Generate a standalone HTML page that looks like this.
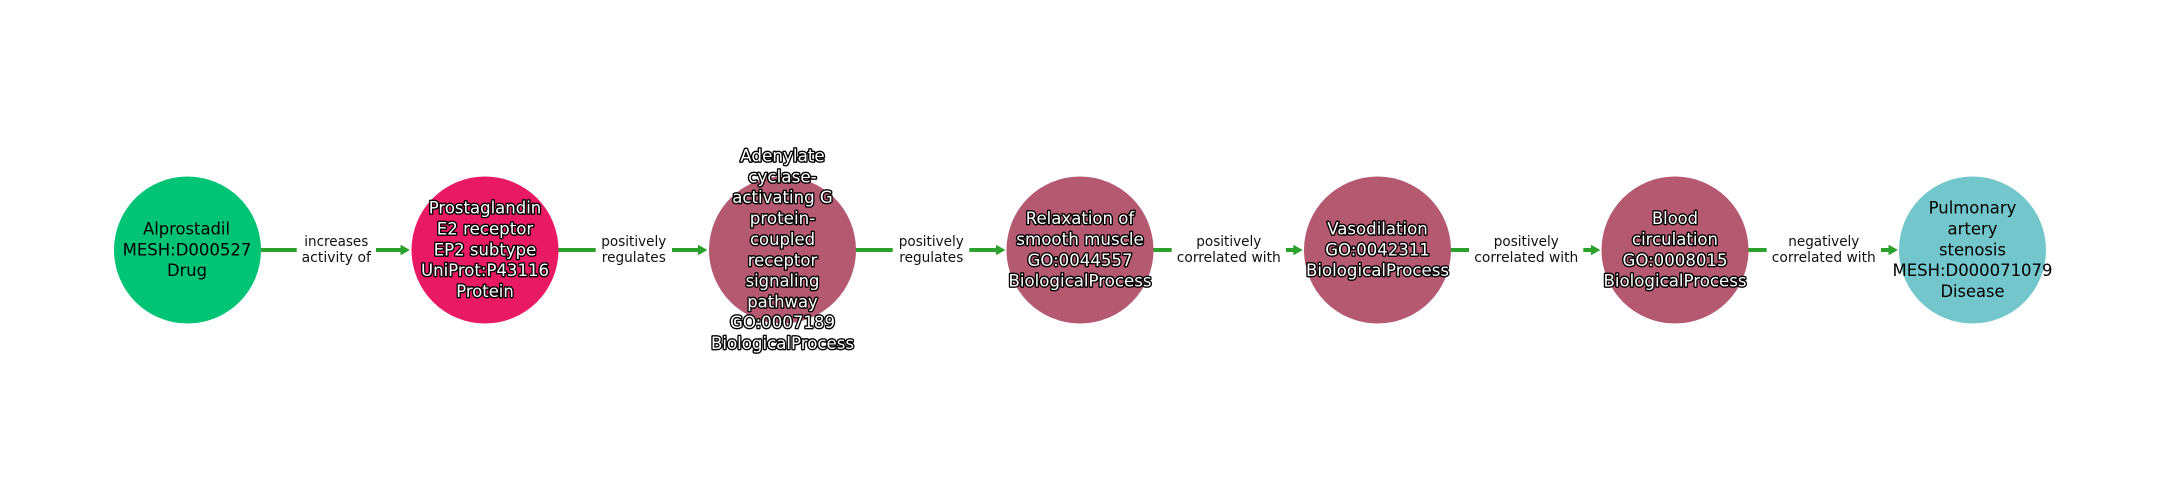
<!DOCTYPE html>
<html><head><meta charset="utf-8">
<style>
html,body{margin:0;padding:0;background:#fff;width:2160px;height:500px;overflow:hidden}
svg{display:block}
text{font-family:"DejaVu Sans",sans-serif;text-anchor:middle}
.n{font-size:17.2px;fill:#000}
.w{font-size:17.2px;fill:#fff;stroke:#000;stroke-width:2.8px;paint-order:stroke;stroke-linejoin:round}
.e{font-size:14px;fill:#111}
.l{stroke:#2ca02c;stroke-width:4;fill:none}
.a{fill:#2ca02c;stroke:#2ca02c;stroke-width:1;stroke-linejoin:round}
</style></head><body>
<svg width="2160" height="500" viewBox="0 0 2160 500" xmlns="http://www.w3.org/2000/svg">
<rect width="2160" height="500" fill="#fff"/>
<!-- edges -->
<path class="l" d="M260 250H296.7M376 250H403"/><path class="a" d="M409 250L401 245.5V254.5Z"/>
<path class="l" d="M558 250H595.7M672 250H701"/><path class="a" d="M706.5 250L698.5 245.5V254.5Z"/>
<path class="l" d="M855 250H892.7M969.3 250H999"/><path class="a" d="M1004.5 250L996.5 245.5V254.5Z"/>
<path class="l" d="M1153 250H1171.7M1286 250H1296"/><path class="a" d="M1301.8 250L1293.8 245.5V254.5Z"/>
<path class="l" d="M1450 250H1469M1583.3 250H1594"/><path class="a" d="M1599.5 250L1591.5 245.5V254.5Z"/>
<path class="l" d="M1748 250H1766.7M1881 250H1891"/><path class="a" d="M1897 250L1889 245.5V254.5Z"/>
<!-- nodes -->
<circle cx="187.5" cy="250" r="73.5" fill="#00c475"/>
<circle cx="485" cy="250" r="73.5" fill="#e91a63"/>
<circle cx="782.5" cy="250" r="73.5" fill="#b55971"/>
<circle cx="1080" cy="250" r="73.5" fill="#b55971"/>
<circle cx="1377.5" cy="250" r="73.5" fill="#b55971"/>
<circle cx="1675" cy="250" r="73.5" fill="#b55971"/>
<circle cx="1972.5" cy="250" r="73.5" fill="#72c6cc"/>
<!-- node labels -->
<text class="n" x="186.5" y="234.5" textLength="87" lengthAdjust="spacingAndGlyphs">Alprostadil</text>
<text class="n" x="187" y="255.5" textLength="128.7" lengthAdjust="spacingAndGlyphs">MESH:D000527</text>
<text class="n" x="187" y="276" textLength="40" lengthAdjust="spacingAndGlyphs">Drug</text>

<text class="w" x="485" y="213.5" textLength="112.5" lengthAdjust="spacingAndGlyphs">Prostaglandin</text>
<text class="w" x="485" y="234.5" textLength="96.5" lengthAdjust="spacingAndGlyphs">E2 receptor</text>
<text class="w" x="485" y="255.5" textLength="102.5" lengthAdjust="spacingAndGlyphs">EP2 subtype</text>
<text class="w" x="485" y="276" textLength="128" lengthAdjust="spacingAndGlyphs">UniProt:P43116</text>
<text class="w" x="485" y="297" textLength="57.5" lengthAdjust="spacingAndGlyphs">Protein</text>

<text class="w" x="782.5" y="161.5" textLength="84.5" lengthAdjust="spacingAndGlyphs">Adenylate</text>
<text class="w" x="782.5" y="182.5" textLength="68.5" lengthAdjust="spacingAndGlyphs">cyclase-</text>
<text class="w" x="782.5" y="203" textLength="100.5" lengthAdjust="spacingAndGlyphs">activating G</text>
<text class="w" x="782.5" y="224" textLength="65.5" lengthAdjust="spacingAndGlyphs">protein-</text>
<text class="w" x="782.5" y="245" textLength="65" lengthAdjust="spacingAndGlyphs">coupled</text>
<text class="w" x="782.5" y="266" textLength="69.5" lengthAdjust="spacingAndGlyphs">receptor</text>
<text class="w" x="782.5" y="286.5" textLength="73.8" lengthAdjust="spacingAndGlyphs">signaling</text>
<text class="w" x="782.5" y="307.5" textLength="70.5" lengthAdjust="spacingAndGlyphs">pathway</text>
<text class="w" x="782.5" y="328" textLength="105" lengthAdjust="spacingAndGlyphs">GO:0007189</text>
<text class="w" x="782.5" y="349" textLength="143" lengthAdjust="spacingAndGlyphs">BiologicalProcess</text>

<text class="w" x="1080" y="224" textLength="108.5" lengthAdjust="spacingAndGlyphs">Relaxation of</text>
<text class="w" x="1080" y="245" textLength="127.5" lengthAdjust="spacingAndGlyphs">smooth muscle</text>
<text class="w" x="1080" y="266" textLength="105" lengthAdjust="spacingAndGlyphs">GO:0044557</text>
<text class="w" x="1080" y="286.5" textLength="143" lengthAdjust="spacingAndGlyphs">BiologicalProcess</text>

<text class="w" x="1377.5" y="234.5" textLength="100.5" lengthAdjust="spacingAndGlyphs">Vasodilation</text>
<text class="w" x="1377.5" y="255.5" textLength="104.5" lengthAdjust="spacingAndGlyphs">GO:0042311</text>
<text class="w" x="1377.5" y="276" textLength="143" lengthAdjust="spacingAndGlyphs">BiologicalProcess</text>

<text class="w" x="1675" y="224" textLength="46" lengthAdjust="spacingAndGlyphs">Blood</text>
<text class="w" x="1675" y="245" textLength="86" lengthAdjust="spacingAndGlyphs">circulation</text>
<text class="w" x="1675" y="266" textLength="105" lengthAdjust="spacingAndGlyphs">GO:0008015</text>
<text class="w" x="1675" y="286.5" textLength="143" lengthAdjust="spacingAndGlyphs">BiologicalProcess</text>

<text class="n" x="1972.5" y="213.5" textLength="87.7" lengthAdjust="spacingAndGlyphs">Pulmonary</text>
<text class="n" x="1972.5" y="234.5" textLength="50" lengthAdjust="spacingAndGlyphs">artery</text>
<text class="n" x="1972.5" y="255.5" textLength="67" lengthAdjust="spacingAndGlyphs">stenosis</text>
<text class="n" x="1972.5" y="276" textLength="160" lengthAdjust="spacingAndGlyphs">MESH:D000071079</text>
<text class="n" x="1972.5" y="297" textLength="64" lengthAdjust="spacingAndGlyphs">Disease</text>
<!-- edge labels -->
<text class="e" x="336.3" y="246" textLength="64" lengthAdjust="spacingAndGlyphs">increases</text>
<text class="e" x="336.3" y="262" textLength="69.3" lengthAdjust="spacingAndGlyphs">activity of</text>
<text class="e" x="633.8" y="246" textLength="65" lengthAdjust="spacingAndGlyphs">positively</text>
<text class="e" x="633.8" y="262" textLength="64" lengthAdjust="spacingAndGlyphs">regulates</text>
<text class="e" x="931.3" y="246" textLength="65" lengthAdjust="spacingAndGlyphs">positively</text>
<text class="e" x="931.3" y="262" textLength="64" lengthAdjust="spacingAndGlyphs">regulates</text>
<text class="e" x="1228.8" y="246" textLength="65" lengthAdjust="spacingAndGlyphs">positively</text>
<text class="e" x="1228.8" y="262" textLength="104" lengthAdjust="spacingAndGlyphs">correlated with</text>
<text class="e" x="1526.3" y="246" textLength="65" lengthAdjust="spacingAndGlyphs">positively</text>
<text class="e" x="1526.3" y="262" textLength="104" lengthAdjust="spacingAndGlyphs">correlated with</text>
<text class="e" x="1823.8" y="246" textLength="71" lengthAdjust="spacingAndGlyphs">negatively</text>
<text class="e" x="1823.8" y="262" textLength="104" lengthAdjust="spacingAndGlyphs">correlated with</text>
</svg>
</body></html>
